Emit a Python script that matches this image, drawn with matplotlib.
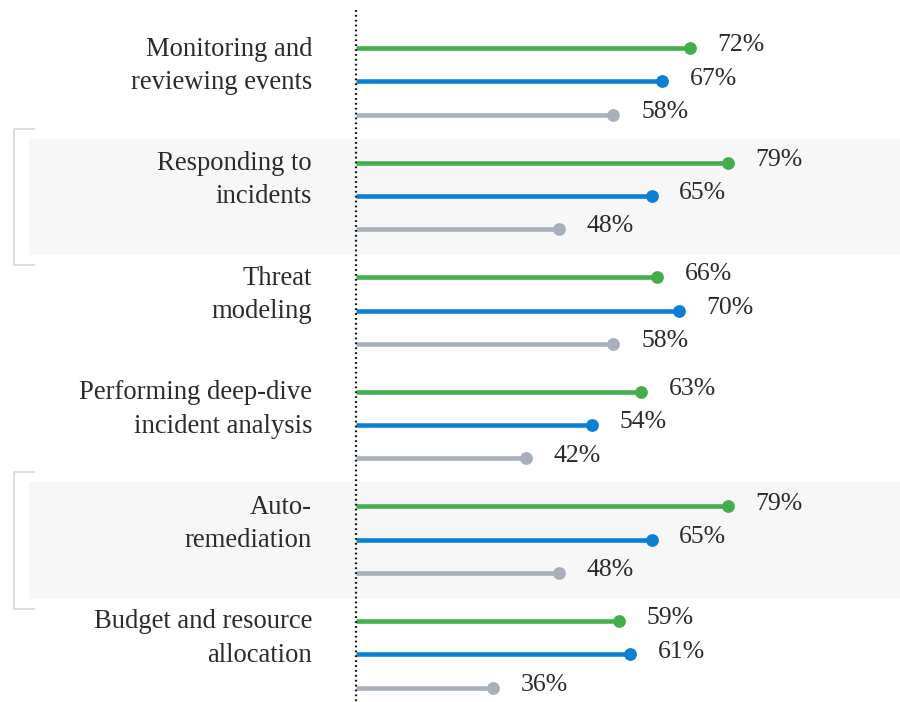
import matplotlib
matplotlib.use("Agg")
import matplotlib.pyplot as plt
from matplotlib.transforms import blended_transform_factory
from matplotlib.lines import Line2D

categories = [
    "Monitoring and\nreviewing events",
    "Responding to\nincidents",
    "Threat\nmodeling",
    "Performing deep-dive\nincident analysis",
    "Auto-\nremediation",
    "Budget and resource\nallocation",
]
green_vals = [72, 79, 66, 63, 79, 59]
blue_vals = [67, 65, 70, 54, 65, 61]
gray_vals = [58, 48, 58, 42, 48, 36]
highlighted = [1, 4]

series = [(green_vals, "#44ae4d"), (blue_vals, "#0a80d5"), (gray_vals, "#a8b0bb")]

plt.rcParams['font.family'] = ['Liberation Serif', 'DejaVu Serif']
TEXT = "#2b2b2b"

W, H = 900, 702
fig = plt.figure(figsize=(W / 100, H / 100), dpi=100)
ax = fig.add_axes([0, 0, 1, 1])
ax.set_axis_off()

# x scale: pixel = 297 + 5.455 * value
PX0, PXS = 297.0, 5.455
ax.set_xlim((0 - PX0) / PXS, (W - PX0) / PXS)
ax.set_ylim(H, 0)
BASE = (356 - PX0) / PXS

Y0, GAP, STEP = 48.0, 114.6, 33.3

def ypos(i, j):
    return Y0 + i * GAP + j * STEP

bt = blended_transform_factory(fig.transFigure, ax.transData)

# highlight bands and brackets
for i in highlighted:
    top = ypos(i, 0) - 24
    bot = ypos(i, 2) + 26
    ax.axhspan(top, bot, xmin=29 / W, xmax=1, color="#f7f7f7", zorder=0, lw=0)
    bt_top = top - 10
    bt_bot = bot + 10
    ln = Line2D([34 / W, 14 / W, 14 / W, 34 / W], [bt_top, bt_top, bt_bot, bt_bot],
                transform=bt, color="#d8dce1", lw=1.3, zorder=1)
    fig.add_artist(ln)

# dotted axis line
ax.plot([BASE, BASE], [10, H], color="#111111", lw=1.6,
        linestyle=(0, (0.8, 1.4)), zorder=5)

# lollipops
for i in range(len(categories)):
    for j, (vals, col) in enumerate(series):
        y = ypos(i, j)
        v = vals[i]
        ax.plot([BASE, v], [y, y], color=col, lw=3.3, solid_capstyle="butt", zorder=3)
        ax.plot([v], [y], marker="o", color=col, markersize=9.2, markeredgewidth=0, zorder=4)
        ax.annotate(f"{v}%", xy=(v, y), xytext=(20, 2), textcoords="offset points",
                    ha="left", va="center", fontsize=18.5, color=TEXT)

# category labels
for i, lab in enumerate(categories):
    lines = lab.split("\n")
    for j, line in enumerate(lines):
        ax.text(312 / W, ypos(i, j) + 1, line, transform=bt, ha="right", va="center",
                fontsize=19.2, color=TEXT)

fig.savefig("out.png", dpi=100, facecolor="white")
